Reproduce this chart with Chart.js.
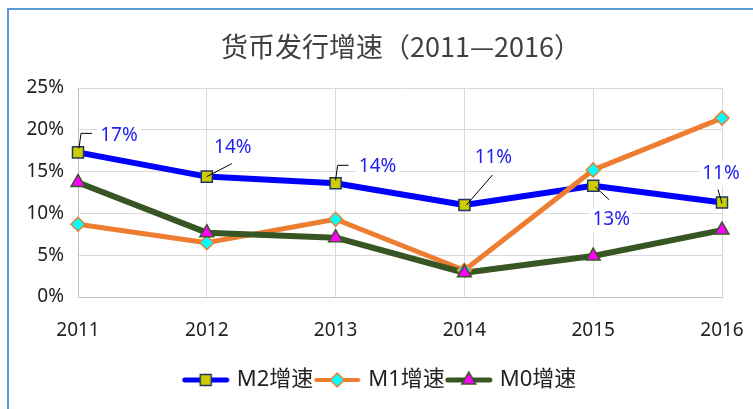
<!DOCTYPE html>
<html>
<head>
<meta charset="utf-8">
<script src="https://cdn.jsdelivr.net/npm/chart.js@4"></script>
<style>
  html, body { margin: 0; padding: 0; background: #fff; }
</style>
</head>
<body>
<canvas id="canvas" width="753" height="409"></canvas>
<script>
/* global Chart */

// Chart data (percent)
const years = ["2011", "2012", "2013", "2014", "2015", "2016"];
const m2Growth = [17.3, 14.4, 13.6, 11.0, 13.3, 11.3];
const m1Growth = [8.7, 6.5, 9.3, 3.2, 15.2, 21.4];
const m0Growth = [13.7, 7.7, 7.1, 2.9, 4.9, 8.0];
const seriesNames = ["M2增速", "M1增速", "M0增速"];

// Look of each series
const m2Style = { line: "#0000ff", width: 6, point: "rect", radius: 7.8, fill: "#cccc00", border: "#1f3864" };
const m1Style = { line: "#ed7d31", width: 5, point: "rectRot", radius: 7, fill: "#00ffff", border: "#ed7d31" };
const m0Style = { line: "#375623", width: 6, point: "triangle", radius: 8, fill: "#ff00ff", border: "#375623" };

// Where the M2 labels sit relative to their point, with the leader line
const labelPlacement = [
  { dx: 41, dy: -17, leader: [[1, -4], [3, -19], [14, -19]] },
  { dx: 26, dy: -29, leader: [[0, 0], [25, -13]] },
  { dx: 42, dy: -17, leader: [[0, -3], [2, -18], [13, -18]] },
  { dx: 29, dy: -47, leader: [[2, 0], [28, -30]] },
  { dx: 18, dy: 34, leader: [[2, 1], [16, 14]] },
  { dx: -1, dy: -29, leader: [[-4, -13], [0, 1]] }
];

function lineDataset(label, data, s, order) {
  return {
    label: label,
    data: data,
    borderColor: s.line,
    backgroundColor: s.line,
    borderWidth: s.width,
    borderJoinStyle: "round",
    borderCapStyle: "round",
    pointRadius: 0,
    pointHoverRadius: 0,
    fill: false,
    order: order
  };
}

function pointDataset(label, data, s, order) {
  return {
    label: label,
    data: data,
    showLine: false,
    pointStyle: s.point,
    pointRadius: s.radius,
    pointHoverRadius: s.radius,
    pointBackgroundColor: s.fill,
    pointBorderColor: s.border,
    pointBorderWidth: 1.5,
    order: order
  };
}

// Small picture of line + marker for the legend
function legendImage(s) {
  const c = document.createElement("canvas");
  c.width = 50;
  c.height = 22;
  const ctx = c.getContext("2d");
  ctx.strokeStyle = s.line;
  ctx.lineWidth = s.width - 1;
  ctx.lineCap = "round";
  ctx.beginPath();
  ctx.moveTo(4, 11);
  ctx.lineTo(46, 11);
  ctx.stroke();
  ctx.fillStyle = s.fill;
  ctx.strokeStyle = s.border;
  ctx.lineWidth = 1.5;
  Chart.helpers.drawPoint(ctx, { pointStyle: s.point, radius: s.radius, rotation: 0, borderWidth: 1.5 }, 25, 11);
  return c;
}

const frameBorder = {
  id: "frameBorder",
  // nudge title and legend so they sit where the original has them
  afterLayout(chart) {
    chart.titleBlock.left += 1;
    chart.titleBlock.right += 1;
    chart.legend.left += 16;
    chart.legend.right += 16;
  },
  beforeDraw(chart) {
    const ctx = chart.ctx;
    ctx.save();
    ctx.fillStyle = "#fff";
    ctx.fillRect(0, 0, chart.width, chart.height);
    ctx.strokeStyle = "#5b9bd5";
    ctx.lineWidth = 2;
    ctx.beginPath();
    ctx.moveTo(8, chart.height);
    ctx.lineTo(8, 9);
    ctx.lineTo(chart.width, 9);
    ctx.stroke();
    ctx.restore();
  }
};

const m2Labels = {
  id: "m2Labels",
  afterDatasetsDraw(chart) {
    const ctx = chart.ctx;
    const meta = chart.getDatasetMeta(3);
    ctx.save();
    ctx.font = "19px 'Noto Sans'";
    ctx.textAlign = "center";
    ctx.textBaseline = "middle";
    meta.data.forEach((pt, i) => {
      const p = labelPlacement[i];
      const text = Math.round(m2Growth[i]) + "%";
      const w = ctx.measureText(text).width;
      const cx = pt.x + p.dx;
      const cy = pt.y + p.dy;
      ctx.fillStyle = "#fff";
      ctx.fillRect(cx - w / 2 - 3, cy - 12, w + 6, 24);
      ctx.strokeStyle = "#000";
      ctx.lineWidth = 1;
      ctx.beginPath();
      p.leader.forEach((q, j) => {
        if (j === 0) ctx.moveTo(pt.x + q[0], pt.y + q[1]);
        else ctx.lineTo(pt.x + q[0], pt.y + q[1]);
      });
      ctx.stroke();
      ctx.fillStyle = "#2222ee";
      ctx.fillText(text, cx, cy);
    });
    ctx.restore();
  }
};

const legendItems = [
  { text: seriesNames[0], pointStyle: legendImage(m2Style), fontColor: "#222", lineWidth: 0 },
  { text: seriesNames[1], pointStyle: legendImage(m1Style), fontColor: "#222", lineWidth: 0 },
  { text: seriesNames[2], pointStyle: legendImage(m0Style), fontColor: "#222", lineWidth: 0 }
];

const config = {
  type: "line",
  data: {
    labels: years,
    datasets: [
      lineDataset(seriesNames[0], m2Growth, m2Style, 6),
      lineDataset(seriesNames[1], m1Growth, m1Style, 5),
      lineDataset(seriesNames[2], m0Growth, m0Style, 4),
      pointDataset(seriesNames[0], m2Growth, m2Style, 3),
      pointDataset(seriesNames[1], m1Growth, m1Style, 2),
      pointDataset(seriesNames[2], m0Growth, m0Style, 1)
    ]
  },
  options: {
    responsive: false,
    animation: false,
    layout: { padding: { top: 10, left: 8, right: 31, bottom: 8 } },
    plugins: {
      tooltip: { enabled: false },
      title: {
        display: true,
        fullSize: false,
        text: "货币发行增速（2011—2016）",
        color: "#404040",
        font: { family: "'Noto Sans CJK SC'", size: 27, weight: "normal" },
        padding: { top: 20.8, bottom: 24.8 }
      },
      legend: {
        position: "bottom",
        labels: {
          usePointStyle: true,
          pointStyleWidth: 40,
          padding: 4,
          color: "#222",
          font: { family: "'Noto Sans', 'Noto Sans CJK SC'", size: 22 },
          generateLabels: () => legendItems
        }
      }
    },
    scales: {
      x: {
        grid: { color: "#d9d9d9", drawTicks: false },
        border: { color: "#bfbfbf" },
        ticks: { color: "#222", padding: 22, font: { family: "'Noto Sans'", size: 19 } },
        afterFit: (scale) => {
          scale.height = 68;
          scale.paddingLeft = 0;
          scale.paddingRight = 0;
        }
      },
      y: {
        min: 0,
        max: 25,
        grid: { color: "#d9d9d9", drawTicks: false },
        border: { color: "#bfbfbf" },
        ticks: {
          stepSize: 5,
          color: "#222",
          padding: 14,
          font: { family: "'Noto Sans'", size: 19 },
          callback: (v) => v + "%"
        },
        afterFit: (scale) => { scale.width = 70; }
      }
    }
  },
  plugins: [frameBorder, m2Labels]
};

const ctx = document.getElementById("canvas").getContext("2d");
window.myLine = new Chart(ctx, config);
</script>
</body>
</html>
